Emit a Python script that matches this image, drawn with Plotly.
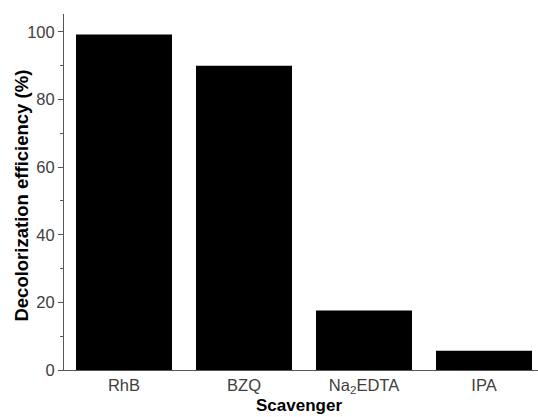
import plotly.graph_objects as go

# Scavenger experiment: decolorization efficiency per scavenger
scavengers = ["RhB", "BZQ", "Na<sub>2</sub>EDTA", "IPA"]
efficiency = [99.2, 90.0, 17.6, 5.7]
y_ticks = [0, 20, 40, 60, 80, 100]

fig = go.Figure(
    go.Bar(
        x=scavengers,
        y=efficiency,
        marker=dict(color="black", line=dict(width=0)),
        width=0.8,
    )
)

font_family = "Liberation Sans, Arial, sans-serif"
tick_color = "#404040"
axis_color = "#555"
title_font = dict(color="black", family=font_family, weight="bold")

fig.update_layout(
    width=538,
    height=417,
    margin=dict(l=64, r=0, t=14, b=47),
    paper_bgcolor="white",
    plot_bgcolor="white",
    showlegend=False,
    font=dict(family=font_family, size=16, color=tick_color),
    xaxis=dict(
        range=[-0.5, 3.45],
        showline=True,
        linecolor=axis_color,
        linewidth=1,
        ticks="",
        showgrid=False,
        tickfont=dict(size=16.5, color=tick_color),
    ),
    yaxis=dict(
        range=[0, 105.3],
        showline=True,
        linecolor=axis_color,
        linewidth=1,
        tickvals=y_ticks,
        ticks="outside",
        ticklen=5,
        tickcolor=axis_color,
        showgrid=False,
        zeroline=False,
        tickfont=dict(size=16.5, color=tick_color),
        minor=dict(ticks="outside", ticklen=3, tickcolor=axis_color, dtick=10, showgrid=False),
    ),
    annotations=[
        dict(
            text="Decolorization efficiency (%)",
            xref="paper",
            yref="paper",
            x=0,
            xshift=-42,
            y=0.49,
            textangle=-90,
            showarrow=False,
            xanchor="center",
            yanchor="middle",
            font=dict(size=18.5, **title_font),
        ),
        dict(
            text="Scavenger",
            xref="paper",
            yref="paper",
            x=0.495,
            y=0,
            yshift=-35,
            showarrow=False,
            xanchor="center",
            yanchor="middle",
            font=dict(size=17, **title_font),
        ),
    ],
)

fig.write_html("out.html")
